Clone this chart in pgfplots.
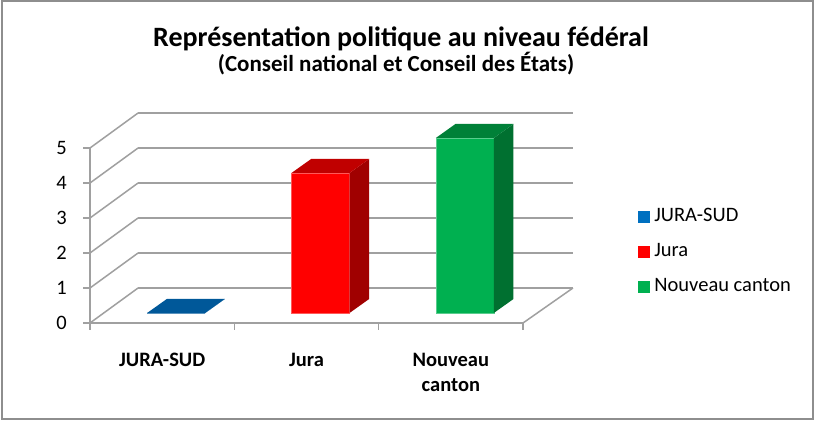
\documentclass[border=0pt]{standalone}
\usepackage{fontspec}
\setmainfont{Carlito}
\usepackage{pgfplots}
\pgfplotsset{compat=1.18}

\definecolor{gridcol}{RGB}{160,160,160}
\definecolor{framecol}{RGB}{142,142,142}
\definecolor{bluetop}{RGB}{0,88,153}
\definecolor{bluekey}{RGB}{0,112,192}
\definecolor{redfront}{RGB}{255,0,0}
\definecolor{redside}{RGB}{160,0,0}
\definecolor{redtop}{RGB}{192,0,0}
\definecolor{greenfront}{RGB}{0,176,80}
\definecolor{greenside}{RGB}{0,112,48}
\definecolor{greentop}{RGB}{0,128,56}

% 3D bar: center, value, front, side, top colour
\newcommand{\barthreed}[5]{%
  \pgfmathsetmacro\xl{#1-0.104}%
  \pgfmathsetmacro\xr{#1+0.298}%
  \pgfmathsetmacro\xbl{#1+0.032}%
  \pgfmathsetmacro\xbr{#1+0.434}%
  \pgfmathsetmacro\yf{#2+0.286}%
  \pgfmathsetmacro\yb{#2+0.686}%
  \edef\tmp{\noexpand\addplot[fill=#3,draw=#3!65!white,line width=0.6pt,forget plot] coordinates {(\xl,0.286) (\xr,0.286) (\xr,\yf) (\xl,\yf)} -- cycle;}\tmp
  \edef\tmp{\noexpand\addplot[fill=#4,draw=none,forget plot] coordinates {(\xr,0.286) (\xbr,0.686) (\xbr,\yb) (\xr,\yf)} -- cycle;}\tmp
  \edef\tmp{\noexpand\addplot[fill=#5,draw=none,forget plot] coordinates {(\xl,\yf) (\xr,\yf) (\xbr,\yb) (\xbl,\yb)} -- cycle;}\tmp
}

\begin{document}
\begin{tikzpicture}[x=1pt,y=1pt]
\useasboundingbox (0,0) rectangle (816,422);
\fill[white] (0,0) rectangle (816,422);
\draw[framecol, line width=2pt] (1.5,2.5) rectangle (813,420.5);

\node[anchor=base, font=\fontsize{28}{32}\selectfont\bfseries] at (401,375)
  {Représentation politique au niveau fédéral};
\node[anchor=base, font=\fontsize{23}{27}\selectfont\bfseries] at (396,350)
  {(Conseil national et Conseil des États)};

\begin{axis}[
    at={(90pt,99pt)}, anchor=south west,
    scale only axis, width=433pt, height=175pt,
    xmin=-0.5, xmax=2.5, ymin=0, ymax=5,
    clip=false,
    axis lines=left,
    axis line style={draw=gridcol, line width=1.5pt, -},
    /pgf/number format/assume math mode=true,
    tick label style={font=\fontsize{20.5}{24}\selectfont},
    ytick={0,1,2,3,4,5},
    ytick style={draw=gridcol, line width=1.5pt},
    tick align=outside,
    major tick length=7pt,
    yticklabel style={inner sep=0pt, anchor=east, xshift=-16pt},
    xtick={0,1,2},
    xticklabels={JURA-SUD,Jura,{Nouveau\\canton}},
    x tick style={draw=none},
    xticklabel style={font=\fontsize{20.5}{25}\selectfont\bfseries, align=center, inner sep=0pt, anchor=north, yshift=-23pt},
    extra x ticks={-0.5,0.5,1.5,2.5},
    extra x tick labels={},
    extra x tick style={x tick style={draw=gridcol, line width=1.5pt}, major tick length=7pt},
    legend style={draw=none, fill=none, inner sep=0pt, outer sep=0pt,
      at={(1.2656,0.4086)}, anchor=west,
      font=\fontsize{20.5}{24}\selectfont, row sep=17pt,
      nodes={inner sep=0pt, text height=14pt, text depth=4pt}},
    legend cell align=left,
    legend image code/.code={\fill[#1] (0pt,-5.5pt) rectangle (11pt,5.5pt);
      \path (16pt,0pt);},
  ]
% back wall grid
\addplot[gridcol, line width=1.5pt, forget plot] coordinates {(-0.167,1) (2.846,1)};
\addplot[gridcol, line width=1.5pt, forget plot] coordinates {(-0.167,2) (2.846,2)};
\addplot[gridcol, line width=1.5pt, forget plot] coordinates {(-0.167,3) (2.846,3)};
\addplot[gridcol, line width=1.5pt, forget plot] coordinates {(-0.167,4) (2.846,4)};
\addplot[gridcol, line width=1.5pt, forget plot] coordinates {(-0.167,5) (2.846,5)};
\addplot[gridcol, line width=1.5pt, forget plot] coordinates {(-0.167,6) (2.846,6)};
% side wall and floor
\addplot[gridcol, line width=1.5pt, forget plot] coordinates {(-0.5,0) (-0.167,1)};
\addplot[gridcol, line width=1.5pt, forget plot] coordinates {(-0.5,1) (-0.167,2)};
\addplot[gridcol, line width=1.5pt, forget plot] coordinates {(-0.5,2) (-0.167,3)};
\addplot[gridcol, line width=1.5pt, forget plot] coordinates {(-0.5,3) (-0.167,4)};
\addplot[gridcol, line width=1.5pt, forget plot] coordinates {(-0.5,4) (-0.167,5)};
\addplot[gridcol, line width=1.5pt, forget plot] coordinates {(-0.5,5) (-0.167,6)};
\addplot[gridcol, line width=1.5pt, forget plot] coordinates {(2.5,0) (2.846,1)};

% bars (values: JURA-SUD 0, Jura 4, Nouveau canton 5)
\barthreed{0}{0}{bluetop}{bluetop}{bluetop}
\barthreed{1}{4}{redfront}{redside}{redtop}
\barthreed{2}{5}{greenfront}{greenside}{greentop}

\addlegendimage{bluekey}
\addlegendentry{JURA-SUD}
\addlegendimage{redfront}
\addlegendentry{Jura}
\addlegendimage{greenfront}
\addlegendentry{Nouveau canton}
\end{axis}
\end{tikzpicture}
\end{document}
